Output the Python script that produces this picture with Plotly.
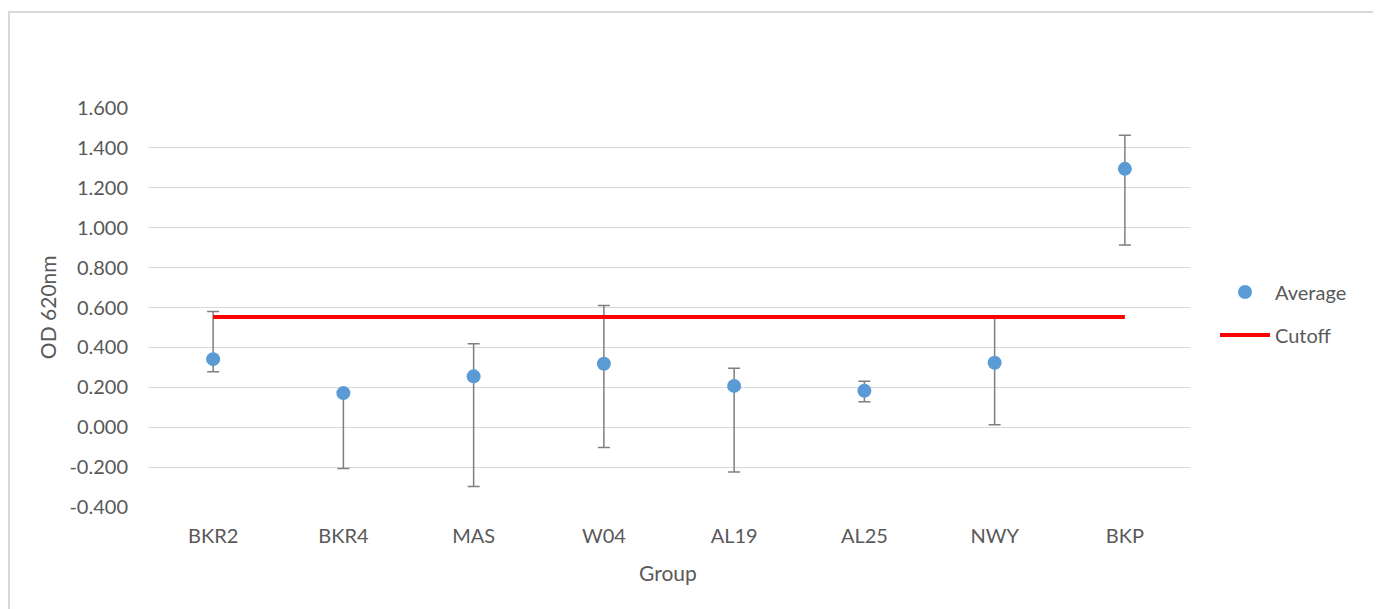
import plotly.graph_objects as go

groups = ["BKR2", "BKR4", "MAS", "W04", "AL19", "AL25", "NWY", "BKP"]
average = [0.341, 0.171, 0.255, 0.318, 0.207, 0.183, 0.323, 1.295]
err_plus = [0.239, 0.0, 0.163, 0.292, 0.088, 0.047, 0.230, 0.168]
err_minus = [0.063, 0.378, 0.552, 0.420, 0.431, 0.056, 0.311, 0.382]
cutoff = [0.553, 0.553, 0.553, 0.553, 0.553, 0.553, 0.553, 0.553]

y_tickvals = [-0.4, -0.2, 0.0, 0.2, 0.4, 0.6, 0.8, 1.0, 1.2, 1.4, 1.6]
y_ticktext = ["-0.400", "-0.200", "0.000", "0.200", "0.400", "0.600",
              "0.800", "1.000", "1.200", "1.400", "1.600"]

FONT = "Lato"
TXT = "#595959"

fig = go.Figure()
fig.add_trace(go.Scatter(
    x=groups, y=average, mode="markers", name="Average", legendgroup="a",
    marker=dict(color="#5b9bd5", size=14),
    error_y=dict(type="data", symmetric=False, array=err_plus, arrayminus=err_minus,
                 color="#7f7f7f", thickness=1.5, width=6),
))
fig.add_trace(go.Scatter(
    x=groups, y=cutoff, mode="lines", name="Cutoff", legendgroup="b",
    line=dict(color="#ff0000", width=4),
))

fig.update_layout(
    width=1370, height=601,
    margin=dict(l=140, r=188, t=100, b=102),
    paper_bgcolor="white", plot_bgcolor="white",
    font=dict(family=FONT, size=20, color=TXT),
    showlegend=True,
    legend=dict(x=1.024, y=0.485, xanchor="left", yanchor="middle",
                font=dict(family=FONT, size=20, color=TXT),
                itemwidth=50, tracegroupgap=14, bgcolor="rgba(0,0,0,0)"),
    xaxis=dict(type="category", range=[-0.5, 7.5], showgrid=False, zeroline=False,
               showline=False, ticks="", tickfont=dict(size=20, color=TXT),
               ticklabelstandoff=15),
    yaxis=dict(range=[-0.4, 1.6], tickvals=y_tickvals, ticktext=y_ticktext,
               showgrid=True, gridcolor="#d9d9d9", gridwidth=1, zeroline=False,
               showline=False, ticks="", tickfont=dict(size=20, color=TXT),
               ticklabelstandoff=19),
    annotations=[
        dict(text="OD 620nm", xref="paper", yref="paper", x=-0.0969, y=0.501,
             textangle=-90, showarrow=False, xanchor="center", yanchor="middle",
             font=dict(family=FONT, size=21, color=TXT)),
        dict(text="Group", xref="paper", yref="paper", x=0.499, y=-0.1654,
             showarrow=False, xanchor="center", yanchor="middle",
             font=dict(family=FONT, size=21, color=TXT)),
    ],
    shapes=[
        dict(type="rect", xref="paper", yref="paper", x0=-0.1334, x1=1.1766,
             y0=-0.283, y1=1.2406, line=dict(color="#d9d9d9", width=2),
             fillcolor="rgba(0,0,0,0)", layer="below"),
    ],
)

fig.write_html("out.html")
